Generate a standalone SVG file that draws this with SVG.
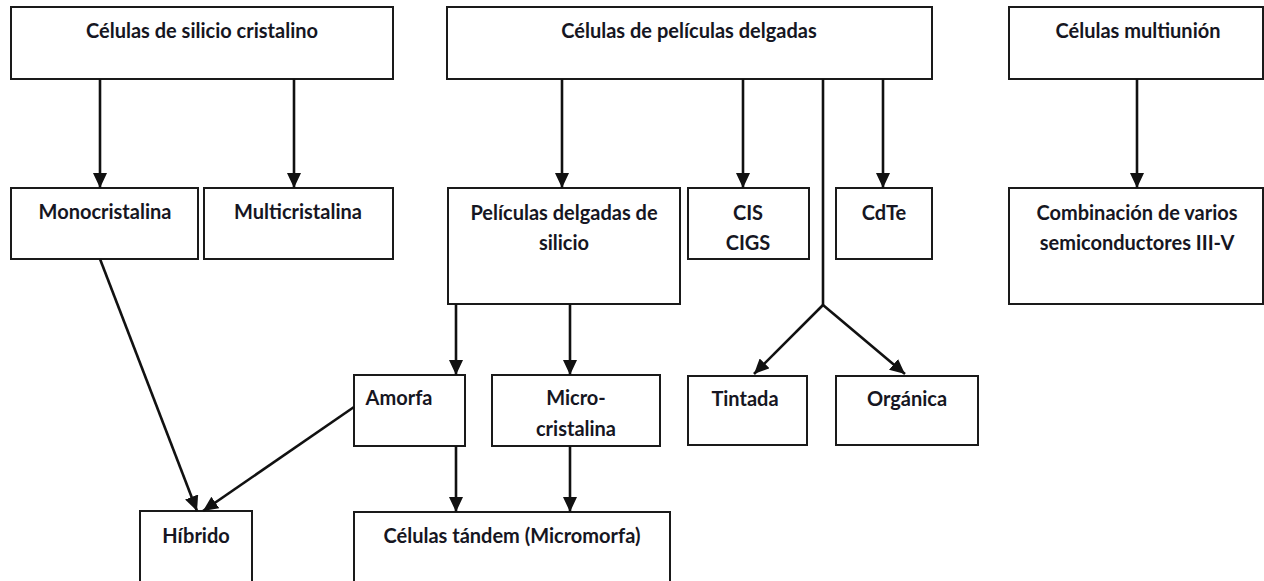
<svg xmlns="http://www.w3.org/2000/svg" width="1264" height="581" viewBox="0 0 1264 581">
<defs>
<style>
.box{fill:#fff;stroke:#1a1a1a;stroke-width:2}
.t{font-family:Lato,"Liberation Sans",sans-serif;font-weight:bold;font-size:20px;fill:#161622;text-anchor:middle}
.c{fill:none;stroke:#111;stroke-width:2.6}
</style>
<marker id="ah" viewBox="0 0 15 14" refX="15" refY="7" markerWidth="15" markerHeight="14" markerUnits="userSpaceOnUse" orient="auto">
<path d="M0,0 L15,7 L0,14 z" fill="#111"/>
</marker>
</defs>
<rect width="1264" height="581" fill="#fff"/>
<g id="n-silicio-cristalino"><rect class="box" x="11" y="7" width="382" height="72"/><text class="t" x="202" y="38">Células de silicio cristalino</text></g>
<g id="n-peliculas-delgadas"><rect class="box" x="447" y="7" width="485" height="72"/><text class="t" x="689" y="38">Células de películas delgadas</text></g>
<g id="n-multiunion"><rect class="box" x="1009" y="7" width="254" height="72"/><text class="t" x="1138" y="38">Células multiunión</text></g>
<g id="n-mono"><rect class="box" x="11" y="188" width="187" height="71"/><text class="t" x="105" y="219">Monocristalina</text></g>
<g id="n-multi"><rect class="box" x="204" y="188" width="189" height="71"/><text class="t" x="298" y="219">Multicristalina</text></g>
<g id="n-pel-silicio"><rect class="box" x="448" y="188" width="232" height="116"/><text class="t" x="564" y="220">Películas delgadas de</text><text class="t" x="564" y="250">silicio</text></g>
<g id="n-cis"><rect class="box" x="688" y="188" width="121" height="71"/><text class="t" x="748" y="220">CIS</text><text class="t" x="748" y="250">CIGS</text></g>
<g id="n-cdte"><rect class="box" x="836" y="188" width="96" height="71"/><text class="t" x="884" y="220">CdTe</text></g>
<g id="n-combinacion"><rect class="box" x="1009" y="188" width="254" height="116"/><text class="t" x="1137" y="220">Combinación de varios</text><text class="t" x="1137" y="250">semiconductores III-V</text></g>
<g id="n-amorfa"><rect class="box" x="354" y="375" width="111" height="71"/><text class="t" x="399" y="405">Amorfa</text></g>
<g id="n-micro"><rect class="box" x="492" y="375" width="168" height="71"/><text class="t" x="576" y="405">Micro-</text><text class="t" x="576" y="436">cristalina</text></g>
<g id="n-tintada"><rect class="box" x="688" y="376" width="119" height="69"/><text class="t" x="745" y="406">Tintada</text></g>
<g id="n-organica"><rect class="box" x="836" y="376" width="142" height="69"/><text class="t" x="907" y="406">Orgánica</text></g>
<g id="n-hibrido"><rect class="box" x="140" y="511" width="112" height="100"/><text class="t" x="196" y="543">Híbrido</text></g>
<g id="n-tandem"><rect class="box" x="354" y="512" width="316" height="100"/><text class="t" x="512" y="543">Células tándem (Micromorfa)</text></g>
<g id="connectors">
<line class="c" x1="100" y1="79" x2="100" y2="188" marker-end="url(#ah)"/>
<line class="c" x1="294" y1="79" x2="294" y2="188" marker-end="url(#ah)"/>
<line class="c" x1="562" y1="79" x2="562" y2="188" marker-end="url(#ah)"/>
<line class="c" x1="743" y1="79" x2="743" y2="188" marker-end="url(#ah)"/>
<line class="c" x1="883" y1="79" x2="883" y2="188" marker-end="url(#ah)"/>
<line class="c" x1="1137" y1="79" x2="1137" y2="188" marker-end="url(#ah)"/>
<polyline class="c" points="823,79 823,305"/>
<line class="c" x1="823" y1="305" x2="754" y2="374" marker-end="url(#ah)"/>
<line class="c" x1="823" y1="305" x2="905" y2="374" marker-end="url(#ah)"/>
<line class="c" x1="456" y1="304" x2="456" y2="375" marker-end="url(#ah)"/>
<line class="c" x1="570" y1="304" x2="570" y2="375" marker-end="url(#ah)"/>
<line class="c" x1="456" y1="446" x2="456" y2="512" marker-end="url(#ah)"/>
<line class="c" x1="570" y1="446" x2="570" y2="512" marker-end="url(#ah)"/>
<line class="c" x1="100" y1="259" x2="197" y2="511" marker-end="url(#ah)"/>
<line class="c" x1="354" y1="407" x2="203" y2="511" marker-end="url(#ah)"/>
</g>
</svg>
